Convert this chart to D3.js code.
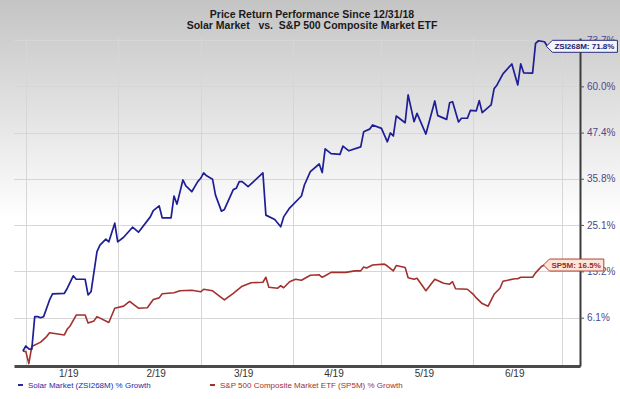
<!DOCTYPE html>
<html>
<head>
<meta charset="utf-8">
<script src="https://cdn.jsdelivr.net/npm/d3@7"></script>
<style>
    body { margin: 0; background: #fff; }
    svg { display: block; font-family: Arial, "Liberation Sans", sans-serif; }
</style>
</head>
<body>
<svg id="grafiek" width="620" height="399"></svg>
<script>
"use strict";

// Koersrendement sinds 12/31/18, in procenten
var solarDates = ["2018-12-31",
    "2019-01-01", "2019-01-02", "2019-01-03", "2019-01-04", "2019-01-05", "2019-01-06", "2019-01-07", "2019-01-09", "2019-01-10", "2019-01-14", "2019-01-15",
    "2019-01-17", "2019-01-18", "2019-01-21", "2019-01-22", "2019-01-23", "2019-01-25", "2019-01-26", "2019-01-28", "2019-01-29", "2019-01-31",
    "2019-02-01", "2019-02-03", "2019-02-06", "2019-02-08", "2019-02-12", "2019-02-13", "2019-02-15", "2019-02-16", "2019-02-19", "2019-02-20",
    "2019-02-21", "2019-02-23", "2019-02-24", "2019-02-26", "2019-02-28",
    "2019-03-01", "2019-03-02", "2019-03-03", "2019-03-05", "2019-03-06", "2019-03-08", "2019-03-09", "2019-03-12", "2019-03-13", "2019-03-14",
    "2019-03-15", "2019-03-17", "2019-03-22", "2019-03-23", "2019-03-26", "2019-03-28", "2019-03-29", "2019-03-31",
    "2019-04-04", "2019-04-05", "2019-04-07", "2019-04-10", "2019-04-11", "2019-04-12", "2019-04-14", "2019-04-17", "2019-04-18", "2019-04-20",
    "2019-04-24", "2019-04-25", "2019-04-27", "2019-04-28",
    "2019-05-01", "2019-05-03", "2019-05-04", "2019-05-05", "2019-05-06", "2019-05-09", "2019-05-10", "2019-05-12", "2019-05-13", "2019-05-16",
    "2019-05-19", "2019-05-20", "2019-05-23", "2019-05-24", "2019-05-25", "2019-05-27", "2019-05-28", "2019-05-30", "2019-05-31",
    "2019-06-02", "2019-06-03", "2019-06-04", "2019-06-07", "2019-06-08", "2019-06-09", "2019-06-11", "2019-06-14", "2019-06-16", "2019-06-17",
    "2019-06-18", "2019-06-21", "2019-06-22", "2019-06-23", "2019-06-25", "2019-06-26"];
var solarValues = [0.0,
    0.9, 0.4, 0.3, 6.3, 6.3, 6.1, 6.3, 9.5, 10.7, 10.8, 11.8, 14.3, 13.6, 13.6, 10.5, 11.1, 19.3, 20.7, 22.0, 21.4, 25.5,
    21.4, 22.4, 24.6, 23.5, 26.9, 28.3, 29.4, 26.7, 26.7, 31.7, 29.8, 35.5, 34.1, 32.7, 35.1,
    35.9, 37.2, 36.5, 35.7, 31.9, 28.2, 28.6, 33.2, 33.5, 35.1, 35.1, 33.9, 37.2, 27.3, 26.3, 24.7, 26.9, 28.9,
    31.7, 34.3, 37.5, 39.4, 37.3, 43.2, 42.0, 41.8, 43.9, 42.7, 43.7, 47.6, 48.3, 49.4,
    48.5, 45.0, 47.3, 46.5, 51.8, 50.0, 57.6, 50.3, 52.5, 47.0, 55.9, 51.9, 50.9, 55.4, 55.7, 50.2, 51.2, 51.2, 53.3,
    53.2, 56.0, 52.7, 54.8, 59.3, 60.4, 63.6, 66.5, 60.4, 66.5, 63.9, 63.8, 72.7, 73.5, 73.2, 71.8];

var spDates = ["2018-12-31",
    "2019-01-01", "2019-01-02", "2019-01-03", "2019-01-06", "2019-01-08", "2019-01-09", "2019-01-14", "2019-01-15", "2019-01-16", "2019-01-18",
    "2019-01-21", "2019-01-22", "2019-01-24", "2019-01-25", "2019-01-29", "2019-01-31",
    "2019-02-03", "2019-02-05", "2019-02-08", "2019-02-11", "2019-02-13", "2019-02-15", "2019-02-16", "2019-02-20", "2019-02-22", "2019-02-26",
    "2019-03-01", "2019-03-02", "2019-03-05", "2019-03-09", "2019-03-12", "2019-03-15", "2019-03-18", "2019-03-22", "2019-03-23", "2019-03-24",
    "2019-03-27", "2019-03-28", "2019-03-29", "2019-03-31",
    "2019-04-02", "2019-04-04", "2019-04-07", "2019-04-10", "2019-04-11", "2019-04-12", "2019-04-14", "2019-04-19", "2019-04-22", "2019-04-24",
    "2019-04-25", "2019-04-26", "2019-04-28",
    "2019-05-02", "2019-05-03", "2019-05-05", "2019-05-06", "2019-05-09", "2019-05-10", "2019-05-12", "2019-05-13", "2019-05-16", "2019-05-19",
    "2019-05-22", "2019-05-24", "2019-05-25", "2019-05-26", "2019-05-30",
    "2019-06-01", "2019-06-02", "2019-06-04", "2019-06-06", "2019-06-08", "2019-06-10", "2019-06-11", "2019-06-15", "2019-06-16", "2019-06-17",
    "2019-06-21", "2019-06-22", "2019-06-24", "2019-06-25"];
var spValues = [0.0,
    -0.1, -2.2, 0.8, 1.6, 2.6, 3.3, 2.9, 4.0, 4.6, 6.6, 6.6, 5.1, 5.5, 6.3, 5.2, 7.9,
    8.3, 9.2, 7.9, 8.0, 9.6, 9.9, 10.7, 10.9, 11.3, 11.4,
    11.1, 11.6, 11.3, 9.5, 10.8, 12.2, 12.9, 13.0, 14.0, 12.0, 11.8, 12.3, 11.9, 13.1,
    13.6, 13.4, 14.4, 14.5, 14.0, 14.3, 15.0, 15.0, 15.3, 15.3, 16.1, 15.9, 16.5,
    16.7, 16.3, 15.3, 16.4, 16.0, 13.9, 13.6, 13.8, 11.3, 13.6, 12.8, 12.6, 13.1, 11.7, 11.6,
    10.6, 9.9, 8.8, 8.3, 10.6, 11.8, 13.2, 13.7, 13.7, 14.0, 14.0, 14.9, 16.2, 16.5];

// Asindeling
var yTickValues = [6.1, 15.2, 25.1, 35.8, 47.4, 60.0, 73.7];
var yTickLabels = ["6.1%", "15.2%", "25.1%", "35.8%", "47.4%", "60.0%", "73.7%"];
var monthStarts = ["2019-01-01", "2019-02-01", "2019-03-01", "2019-04-01", "2019-05-01", "2019-06-01", "2019-07-01"];
var monthLabels = ["1/19", "2/19", "3/19", "4/19", "5/19", "6/19"];

var seriesNames = ["Solar Market (ZSI268M) % Growth", "S&P 500 Composite Market ETF (SP5M) % Growth"];
var seriesCodes = ["ZSI268M", "SP5M"];

var parse = d3.timeParse("%Y-%m-%d");
var plot = { left: 14, right: 580, top: 38, bottom: 366 };

var svg = d3.select("#grafiek");

// achtergrond met verloop
var defs = svg.append("defs");
var verloop = defs.append("linearGradient").attr("id", "achtergrond")
    .attr("x1", 0).attr("y1", 0).attr("x2", 0).attr("y2", 1);
verloop.append("stop").attr("offset", "0%").attr("stop-color", "#c4c4c4");
verloop.append("stop").attr("offset", "55%").attr("stop-color", "#ffffff");
verloop.append("stop").attr("offset", "100%").attr("stop-color", "#ffffff");
svg.append("rect").attr("width", 620).attr("height", 399).attr("fill", "url(#achtergrond)");

// titel
var titel = svg.append("text").attr("text-anchor", "middle")
    .style("font-weight", "bold").style("font-size", "10.5px").style("fill", "#1a1a1a")
    .style("white-space", "pre");
titel.append("tspan").attr("x", 312).attr("y", 18).text("Price Return Performance Since 12/31/18");
titel.append("tspan").attr("x", 312).attr("y", 29).text("Solar Market   vs.  S&P 500 Composite Market ETF");

// schalen: logaritmisch op groeifactor
var x = d3.scaleTime()
    .domain([parse("2018-12-28"), parse("2019-07-07")])
    .range([plot.left, plot.right]);
var y = d3.scaleLog()
    .domain([1 - 2.62 / 100, 1 + 74.35 / 100])
    .range([plot.bottom, plot.top]);
function groei(v) { return 1 + v / 100; }

// rasterlijnen
svg.append("g").selectAll("line").data(yTickValues).enter().append("line")
    .attr("x1", plot.left).attr("x2", plot.right)
    .attr("y1", function (d) { return Math.round(y(groei(d))) + 0.5; })
    .attr("y2", function (d) { return Math.round(y(groei(d))) + 0.5; })
    .style("stroke", "#d6d6d6").style("stroke-width", 1);
svg.append("g").selectAll("line").data(monthStarts.map(parse)).enter().append("line")
    .attr("x1", function (d) { return Math.round(x(d)) + 0.5; })
    .attr("x2", function (d) { return Math.round(x(d)) + 0.5; })
    .attr("y1", plot.top).attr("y2", plot.bottom)
    .style("stroke", "#d6d6d6").style("stroke-width", 1);

// maandlabels midden in de maand
svg.append("g").selectAll("text").data(monthLabels).enter().append("text")
    .attr("x", function (d, i) {
        var a = parse(monthStarts[i]), b = parse(monthStarts[i + 1]);
        return x(new Date((+a + +b) / 2)) - 3;
    })
    .attr("y", 377)
    .attr("text-anchor", "middle")
    .style("font-size", "10px").style("fill", "#333")
    .text(function (d) { return d; });

// lijnen
var lijn = d3.line()
    .x(function (d) { return x(d.date); })
    .y(function (d) { return y(groei(d.value)); });
function reeks(dates, values) {
    return dates.map(function (d, i) { return { date: parse(d), value: values[i] }; });
}
var solar = reeks(solarDates, solarValues);
var sp = reeks(spDates, spValues);

svg.append("path").datum(sp).attr("d", lijn)
    .style("fill", "none").style("stroke", "#a3302c").style("stroke-width", 1.6)
    .style("stroke-linejoin", "round");
svg.append("path").datum(solar).attr("d", lijn)
    .style("fill", "none").style("stroke", "#1e1e96").style("stroke-width", 1.7)
    .style("stroke-linejoin", "round");

// assen
var onderas = svg.append("g").attr("transform", "translate(0," + plot.bottom + ")")
    .call(d3.axisBottom(x).tickValues([]).tickSizeOuter(0));
onderas.select(".domain").style("stroke", "#4a4a4a").style("stroke-width", 3);

var rechteras = svg.append("g").attr("transform", "translate(" + plot.right + ",0)")
    .call(d3.axisRight(y)
        .tickValues(yTickValues.map(groei))
        .tickFormat(function (d, i) { return yTickLabels[i]; })
        .tickSize(4).tickPadding(3).tickSizeOuter(0));
rechteras.select(".domain").style("stroke", "#3c3c3c").style("stroke-width", 2);
rechteras.selectAll(".tick line").style("stroke", "#555");
rechteras.selectAll(".tick text")
    .style("font-family", "Arial, 'Liberation Sans', sans-serif")
    .style("font-size", "10px").style("fill", "#4a4a8c");

// eindlabels
function eindlabel(data, code, fill, stroke, kleur) {
    var laatste = data[data.length - 1];
    var px = x(laatste.date) - 1, py = y(groei(laatste.value));
    var g = svg.append("g").attr("transform", "translate(" + px + "," + py + ")");
    var vorm = g.append("path");
    var t = g.append("text").attr("x", 8).attr("y", 3)
        .style("font-size", "8px").style("font-weight", "bold").style("fill", kleur)
        .text(code + ": " + d3.format(".1f")(laatste.value) + "%");
    var w = t.node().getComputedTextLength() + 11;
    vorm.attr("d", "M0,0 L6,-6 L" + w + ",-6 L" + w + ",6 L6,6 Z")
        .style("fill", fill).style("stroke", stroke).style("stroke-width", 1);
}
eindlabel(solar, seriesCodes[0], "#f4f4fb", "#2a2a80", "#22226e");
eindlabel(sp, seriesCodes[1], "#fde6d6", "#b0403a", "#9c2a24");

// legenda
var kleuren = ["#2a2aa0", "#a3302c"];
var legendaX = [18, 210];
var legenda = svg.append("g").selectAll("g").data(seriesNames).enter().append("g")
    .attr("transform", function (d, i) { return "translate(" + legendaX[i] + ",388)"; });
legenda.append("line").attr("x1", 0).attr("x2", 5).attr("y1", -3).attr("y2", -3)
    .style("stroke", function (d, i) { return kleuren[i]; }).style("stroke-width", 2);
legenda.append("text").attr("x", 10).attr("y", 0)
    .style("font-size", "8px").style("fill", function (d, i) { return kleuren[i]; })
    .text(function (d) { return d; });
</script>
</body>
</html>
